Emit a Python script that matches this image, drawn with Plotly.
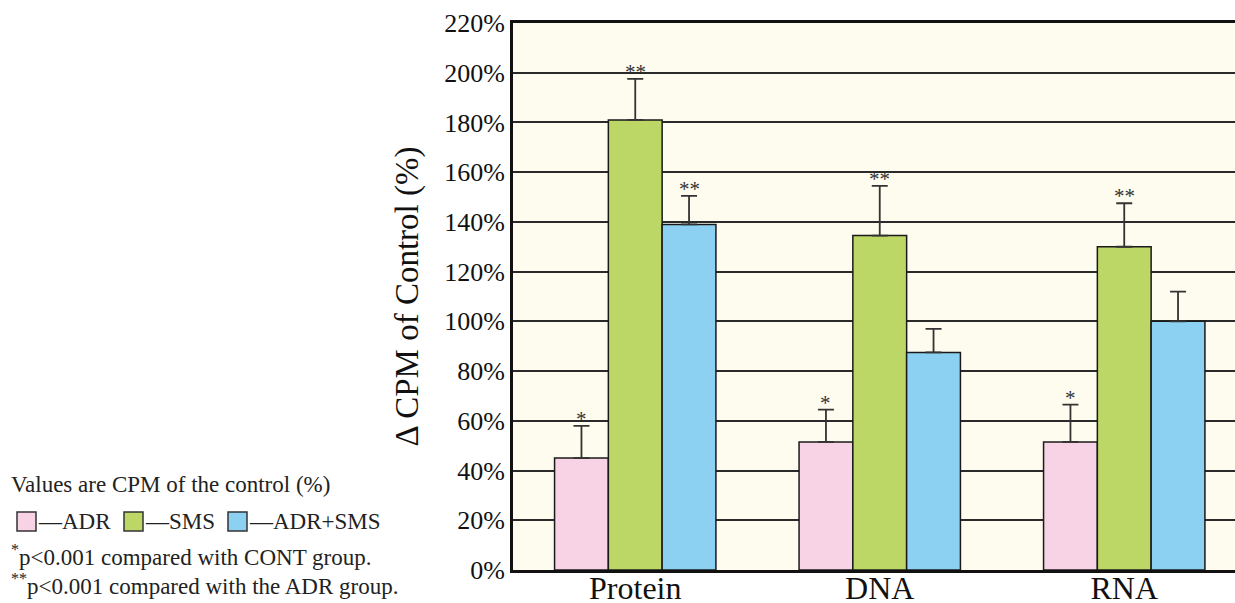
import plotly.graph_objects as go

categories = ["Protein", "DNA", "RNA"]
series_names = ["ADR", "SMS", "ADR+SMS"]
adr = [45, 51.5, 51.5]
sms = [181, 134.5, 130]
adr_sms = [139, 87.5, 100]
adr_err = [13, 13, 15]
sms_err = [16.5, 20, 17.5]
adr_sms_err = [11.5, 9.5, 12]
adr_sig = ["*", "*", "*"]
sms_sig = ["**", "**", "**"]
adr_sms_sig = ["**", "", ""]
tick_vals = list(range(0, 221, 20))
tick_text = [f"{v}%" for v in tick_vals]

colors = ["#F8D3E5", "#BDD766", "#8DD1F2"]
values = [adr, sms, adr_sms]
errs = [adr_err, sms_err, adr_sms_err]
sigs = [adr_sig, sms_sig, adr_sms_sig]

SERIF = "Liberation Serif"
L, R, T, B, W, H = 513, 0, 23, 33, 1235, 603
PW, PH = W - L - R, H - T - B


def px(x):
    return (x - L) / PW


def py(y):
    return (H - B - y) / PH


fig = go.Figure()
for name, vals, err, col in zip(series_names, values, errs, colors):
    fig.add_trace(go.Bar(
        x=categories, y=vals, name=name, showlegend=False,
        marker=dict(color=col, line=dict(color="#1a1a1a", width=1.5)),
        error_y=dict(type="data", array=err, arrayminus=[0] * len(err),
                     symmetric=False, color="#333333", thickness=1.8, width=8),
    ))

bw = 0.22
annotations = []
for si, (vals, err, sg) in enumerate(zip(values, errs, sigs)):
    for ci in range(len(categories)):
        if sg[ci]:
            annotations.append(dict(
                x=ci + (si - 1) * bw, y=vals[ci] + err[ci], xref="x", yref="y",
                text=sg[ci], showarrow=False, yanchor="bottom", yshift=-7,
                font=dict(family=SERIF, size=21, color="#333333")))

NOTE_SIZE = 23
notes = [("Values are CPM of the control (%)", 484),
         ("<sup>*</sup>p<0.001 compared with CONT group.", 555),
         ("<sup>**</sup>p<0.001 compared with the ADR group.", 584)]
for txt, yy in notes:
    annotations.append(dict(x=px(9), y=py(yy), xref="paper", yref="paper", text=txt,
                            showarrow=False, xanchor="left", yanchor="middle",
                            font=dict(family=SERIF, size=NOTE_SIZE, color="#222222")))

# legend key (swatch + label)
shapes = []
key_x = [17, 124, 228]
for name, col, kx in zip(series_names, colors, key_x):
    shapes.append(dict(type="rect", xref="paper", yref="paper",
                       x0=px(kx), x1=px(kx + 19), y0=py(531), y1=py(512),
                       fillcolor=col, line=dict(color="#333333", width=1.5)))
    annotations.append(dict(x=px(kx + 19), y=py(521), xref="paper", yref="paper",
                            text="—" + name, showarrow=False, xanchor="left", yanchor="middle",
                            font=dict(family=SERIF, size=NOTE_SIZE, color="#222222")))

fig.update_layout(
    width=W, height=H,
    margin=dict(l=L, r=R, t=T, b=B, autoexpand=False),
    paper_bgcolor="white", plot_bgcolor="#FEFCEE",
    barmode="group", bargap=0.34, bargroupgap=0,
    font=dict(family=SERIF, color="#111111"),
    showlegend=False,
    xaxis=dict(range=[-0.5, 2.453], showgrid=False, showline=True, linecolor="#111111",
               linewidth=3, mirror=True, ticks="", automargin=False, ticklabelstandoff=-12,
               tickfont=dict(family=SERIF, size=32, color="#111111")),
    yaxis=dict(range=[0, 220], tickvals=tick_vals, ticktext=tick_text, showgrid=True,
               gridcolor="#2a2a2a", gridwidth=1.5, showline=True, linecolor="#111111",
               linewidth=3, ticks="", zeroline=False, automargin=False,
               tickfont=dict(family=SERIF, size=26, color="#111111"),
               title=dict(text="Δ CPM of Control (%)", standoff=16,
                          font=dict(family=SERIF, size=33, color="#111111"))),
    annotations=annotations,
    shapes=shapes,
)
fig.write_html("out.html", config={"displayModeBar": False},
               post_script="document.body.style.margin='0px';")
